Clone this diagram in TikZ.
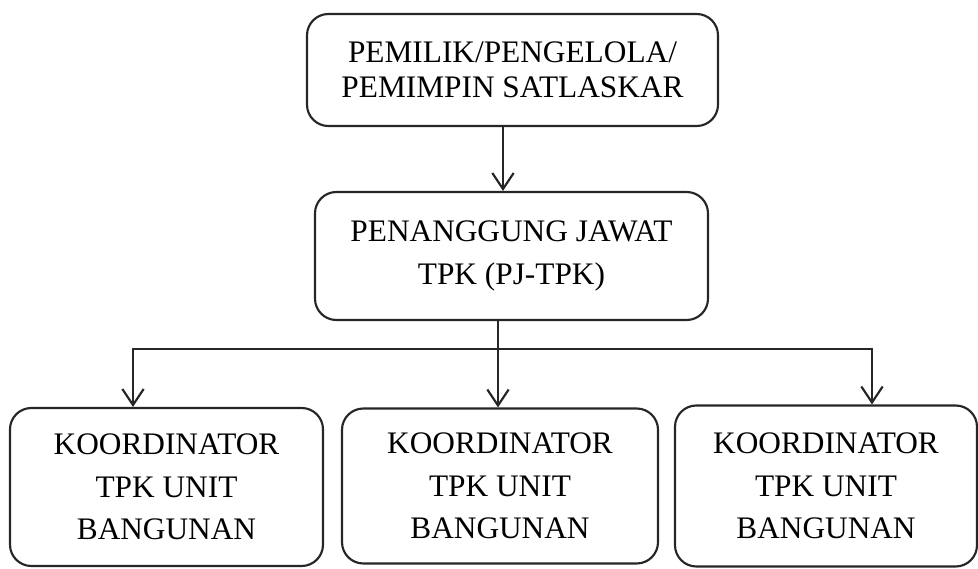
\documentclass[tikz,border=0pt]{standalone}
\usepackage{fontspec}
\setmainfont{Liberation Serif}
\usetikzlibrary{arrows.meta}
\tikzset{
  kotak/.style={draw=black!85, line width=1.6pt, rounded corners=16pt, align=center, inner sep=0pt,
    font=\fontsize{23.5}{32}\selectfont},
  garis/.style={draw=black!85, line width=1.6pt},
}
\begin{document}
\begin{tikzpicture}[x=0.75pt, y=0.75pt, >={Straight Barb[length=12pt,width=16pt]}, line join=round, line cap=round]
    \useasboundingbox (0,0) rectangle (978,568);
    \node[kotak, minimum width=308.25pt, minimum height=84pt, font=\fontsize{23.5}{26.5}\selectfont] (pemilik) at (512.5,498)
        {PEMILIK/PENGELOLA/\\PEMIMPIN SATLASKAR};
    \node[kotak, minimum width=294.75pt, minimum height=96pt] (pj) at (511.5,312)
        {PENANGGUNG JAWAT\\TPK (PJ-TPK)};
    \node[kotak, minimum width=234.75pt, minimum height=118.5pt] (k1) at (166.5,81)
        {KOORDINATOR\\TPK UNIT\\BANGUNAN};
    \node[kotak, minimum width=237pt, minimum height=116.25pt] (k2) at (500,82)
        {KOORDINATOR\\TPK UNIT\\BANGUNAN};
    \node[kotak, minimum width=226.5pt, minimum height=120.75pt] (k3) at (826,82)
        {KOORDINATOR\\TPK UNIT\\BANGUNAN};
    % titik bantu
    \coordinate (t) at (503,0);
    \coordinate (b1) at (133,219);
    \coordinate (b2) at (498,219);
    \coordinate (b3) at (872,219);
    \draw[garis,->] (t |- pemilik.south) -- (t |- pj.north);
    \draw[garis] (b2 |- pj.south) -- (b2);
    \draw[garis] (b1) -- (b3);
    \draw[garis,->] (b1) -- (b1 |- k1.north);
    \draw[garis,->] (b2) -- (b2 |- k2.north);
    \draw[garis,->] (b3) -- (b3 |- k3.north);
\end{tikzpicture}
\end{document}
